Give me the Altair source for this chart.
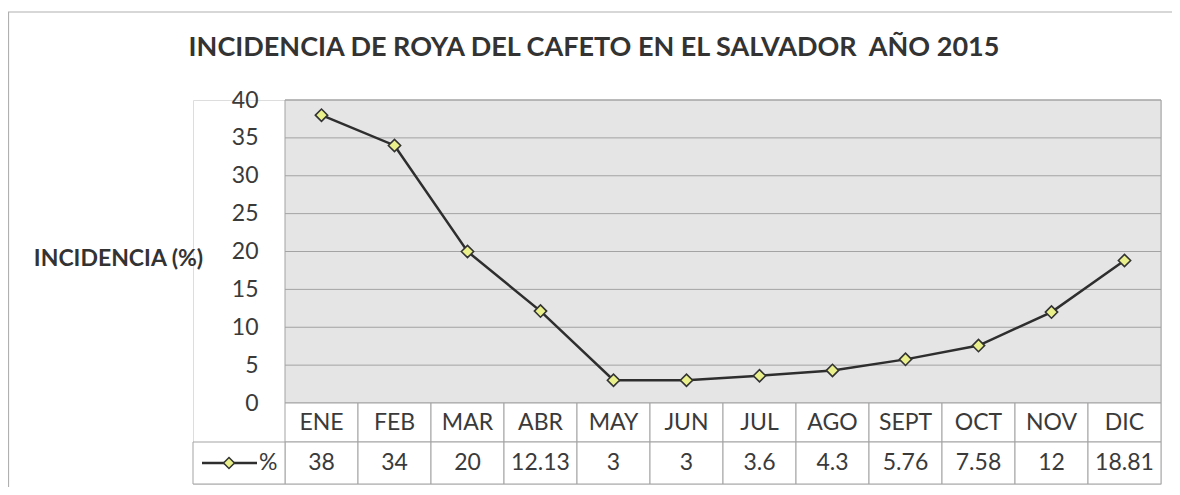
import altair as alt
import pandas as pd

# ---- data ----
months = ["ENE", "FEB", "MAR", "ABR", "MAY", "JUN", "JUL", "AGO", "SEPT", "OCT", "NOV", "DIC"]
values = [38, 34, 20, 12.13, 3, 3, 3.6, 4.3, 5.76, 7.58, 12, 18.81]
value_labels = ["38", "34", "20", "12.13", "3", "3", "3.6", "4.3", "5.76", "7.58", "12", "18.81"]
y_ticks = [0, 5, 10, 15, 20, 25, 30, 35, 40]
series_name = "%"
title_text = "INCIDENCIA DE ROYA DEL CAFETO EN EL SALVADOR \u00a0AÑO 2015"
y_title = "INCIDENCIA (%)"

# ---- layout (page pixels) ----
COL_W = 73
LEG_W = 92
PLOT_W = COL_W * len(months) + LEG_W
TOP, ZERO, ROW1, BOTTOM = 100, 403, 442, 484
PLOT_H = BOTTOM - TOP
YMAX = 40
PX_PER_UNIT = (ZERO - TOP) / YMAX
YMIN = -(BOTTOM - ZERO) / PX_PER_UNIT
ROW1_Y = -(ROW1 - ZERO) / PX_PER_UNIT
LEG_X0 = -LEG_W / COL_W

FONT = "Lato"
TXT = "#3a3a3a"
GRID = "#a3a3a3"

df = pd.DataFrame({"mes": months, "pct": values, "label": value_labels,
                   "i": list(range(len(months)))})
df["xc"] = df["i"] + 0.5
df["x1"] = df["i"] + 0.0
df["x2"] = df["i"] + 1.0

xs = alt.Scale(domain=[LEG_X0, len(months)], nice=False, zero=False)
ys = alt.Scale(domain=[YMIN, YMAX], nice=False, zero=False)

base = alt.Chart(df)

# plot background
bg_df = pd.DataFrame({"x": [0], "x2": [len(months)], "y": [0], "y2": [YMAX]})
bg = alt.Chart(bg_df).mark_rect(fill="#e5e5e5", stroke=GRID, strokeWidth=1).encode(
    x=alt.X("x:Q", scale=xs, axis=None), x2="x2:Q",
    y=alt.Y("y:Q", scale=ys,
            axis=alt.Axis(values=y_ticks, domain=False, ticks=False, grid=False,
                          labelFont=FONT, labelFontSize=23, labelColor=TXT,
                          labelPadding=27, offset=-LEG_W,
                          title=y_title, titleAngle=0, titleFont=FONT,
                          titleFontSize=23, titleFontWeight="bold", titleColor="#333333",
                          titleAlign="center", titleBaseline="middle",
                          titleX=118 - (193 + LEG_W), titleY=258 - TOP)),
    y2="y2:Q",
)

grid_df = pd.DataFrame({"y": y_ticks[1:], "x": 0, "x2": len(months)})
grid = alt.Chart(grid_df).mark_rule(color=GRID, strokeWidth=1).encode(
    x=alt.X("x:Q", scale=xs), x2="x2:Q", y=alt.Y("y:Q", scale=ys))

line = base.mark_line(color="#2e2e2e", strokeWidth=2.5).encode(
    x=alt.X("xc:Q", scale=xs), y=alt.Y("pct:Q", scale=ys))
pts = base.mark_point(shape="diamond", size=150, filled=True, fill="#e9f08c",
                      stroke="#333333", strokeWidth=1.6, opacity=1).encode(
    x=alt.X("xc:Q", scale=xs), y=alt.Y("pct:Q", scale=ys))

# data table
cell_style = dict(fill="white", stroke=GRID, strokeWidth=1)
row1 = base.mark_rect(**cell_style).encode(
    x=alt.X("x1:Q", scale=xs), x2="x2:Q",
    y=alt.datum(ROW1_Y, scale=ys), y2=alt.datum(0))
row2 = base.mark_rect(**cell_style).encode(
    x=alt.X("x1:Q", scale=xs), x2="x2:Q",
    y=alt.datum(YMIN, scale=ys), y2=alt.datum(ROW1_Y))
mes_txt = base.mark_text(font=FONT, fontSize=23, color=TXT, baseline="middle").encode(
    x=alt.X("xc:Q", scale=xs), y=alt.datum(ROW1_Y / 2, scale=ys), text="mes:N")
val_txt = base.mark_text(font=FONT, fontSize=23, color=TXT, baseline="middle").encode(
    x=alt.X("xc:Q", scale=xs), y=alt.datum((ROW1_Y + YMIN) / 2, scale=ys), text="label:N")

# legend cell
leg_df = pd.DataFrame({"x": [LEG_X0], "x2": [0], "y": [YMIN], "y2": [ROW1_Y]})
leg_cell = alt.Chart(leg_df).mark_rect(**cell_style).encode(
    x=alt.X("x:Q", scale=xs), x2="x2:Q", y=alt.Y("y:Q", scale=ys), y2="y2:Q")
ly = (ROW1_Y + YMIN) / 2
leg_line_df = pd.DataFrame({"x": [LEG_X0 + 9 / COL_W], "x2": [LEG_X0 + 64 / COL_W], "y": [ly]})
leg_line = alt.Chart(leg_line_df).mark_rule(color="#2e2e2e", strokeWidth=2.5).encode(
    x=alt.X("x:Q", scale=xs), x2="x2:Q", y=alt.Y("y:Q", scale=ys))
leg_pt_df = pd.DataFrame({"x": [LEG_X0 + 36 / COL_W], "y": [ly]})
leg_pt = alt.Chart(leg_pt_df).mark_point(shape="diamond", size=120, filled=True,
                                          fill="#e9f08c", stroke="#333333",
                                          strokeWidth=1.5, opacity=1).encode(
    x=alt.X("x:Q", scale=xs), y=alt.Y("y:Q", scale=ys))
leg_txt_df = pd.DataFrame({"x": [LEG_X0 + 66 / COL_W], "y": [ly], "t": [series_name]})
leg_txt = alt.Chart(leg_txt_df).mark_text(font=FONT, fontSize=23, color=TXT,
                                          align="left", baseline="middle").encode(
    x=alt.X("x:Q", scale=xs), y=alt.Y("y:Q", scale=ys), text="t:N")

# outer chart frame (decoration)
frame_top = alt.Chart(bg_df).mark_rule(color="#b0b0b0", strokeWidth=1.2).encode(
    x=alt.value(-185), x2=alt.value(PLOT_W + 20), y=alt.value(4 - (TOP - 8)))
frame_left = alt.Chart(bg_df).mark_rule(color="#b0b0b0", strokeWidth=1.2).encode(
    x=alt.value(-184.5), y=alt.value(4 - (TOP - 8)), y2=alt.value(PLOT_H + 20))

chart = alt.layer(
    bg, grid, row1, row2, leg_cell, mes_txt, val_txt, leg_line, leg_pt, leg_txt,
    line, pts, frame_top, frame_left
).properties(
    width=PLOT_W, height=PLOT_H,
    title=alt.Title(title_text, font=FONT, fontSize=27, fontWeight="bold", color="#333333",
                    anchor="middle", dx=594 - (193 + PLOT_W / 2), offset=-51),
    autosize=alt.AutoSizeParams(type="none"),
    padding={"left": 185, "top": TOP - 8, "right": 11, "bottom": 3},
).configure_view(stroke=None).configure(background="white")

chart.save("out.html", embed_options={"renderer": "svg", "actions": False})
